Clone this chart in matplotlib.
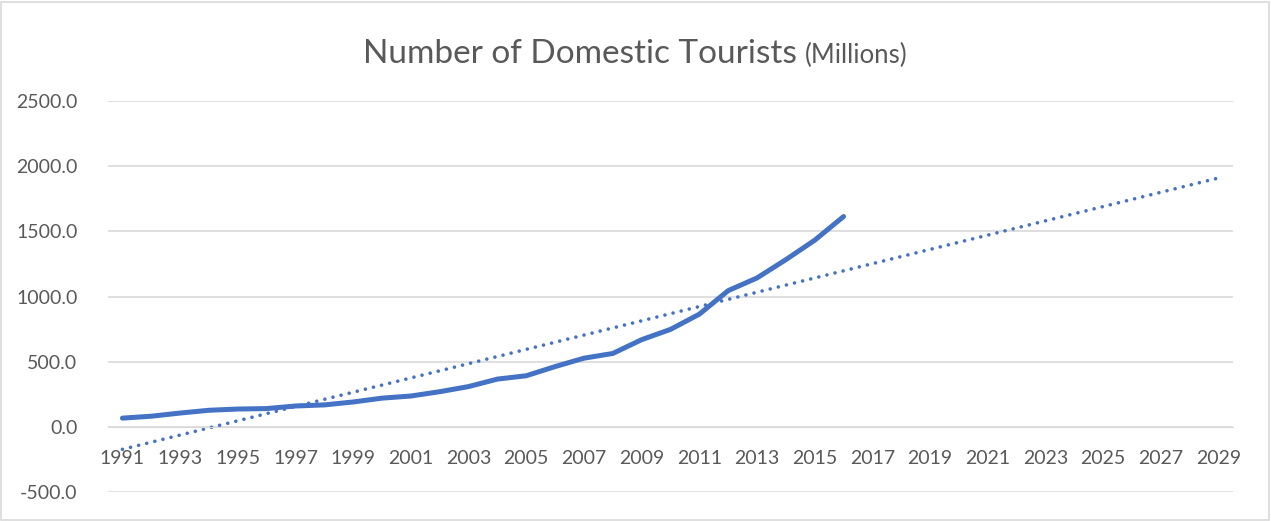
import numpy as np
import matplotlib.pyplot as plt

# Domestic tourist visits, millions
years = list(range(1991, 2017))
tourists = [66.7, 81.5, 105.8, 127.1, 136.6, 140.1, 159.9, 168.2, 190.7, 220.1,
            236.5, 269.6, 309.0, 366.3, 392.0, 462.3, 526.7, 563.0, 668.8, 747.7,
            864.5, 1045.0, 1142.5, 1282.8, 1432.0, 1613.6]
forecast_to = 2029

all_years = list(range(years[0], forecast_to + 1))
tick_years = all_years[::2]
yticks = [-500, 0, 500, 1000, 1500, 2000, 2500]

blue = "#4472C4"
grey_txt = "#595959"
grid_c = "#D9D9D9"

plt.rcParams["font.family"] = ["Lato", "DejaVu Sans"]

W, H = 1271, 521
fig = plt.figure(figsize=(W / 100, H / 100), dpi=100)
ax = fig.add_axes([108 / W, (H - 492) / H, (1233 - 108) / W, (492 - 101) / H])

x = np.arange(len(years))
ax.plot(x, tourists, color=blue, lw=3.6, solid_capstyle="round",
        solid_joinstyle="round", zorder=3)

# linear trend, projected forward
xf = np.arange(len(all_years))
coef = np.polyfit(x, tourists, 1)
ax.plot(xf, np.polyval(coef, xf), color=blue, lw=2.6,
        linestyle=(0, (0.01, 2.3)), dash_capstyle="round", zorder=2)

ax.set_xlim(-0.5, len(all_years) - 0.5)
ax.set_ylim(-500, 2500)
ax.set_yticks(yticks)
ax.set_yticklabels([f"{v:.1f}" for v in yticks])
ax.set_xticks([all_years.index(y) for y in tick_years])
ax.set_xticklabels([str(y) for y in tick_years])

ax.grid(axis="y", color=grid_c, lw=1.2)
ax.set_axisbelow(True)
for s in ax.spines.values():
    s.set_visible(False)
ax.spines["bottom"].set_visible(True)
ax.spines["bottom"].set_position(("data", 0))
ax.spines["bottom"].set_color(grid_c)
ax.tick_params(axis="both", length=0, labelsize=14, labelcolor=grey_txt)
ax.tick_params(axis="x", pad=16.5)
ax.tick_params(axis="y", pad=22)

# title in two sizes
t1 = fig.text(0.5, 1 - 63 / H, "Number of Domestic Tourists", fontsize=24,
              color=grey_txt, ha="left", va="baseline")
t2 = fig.text(0.5, 1 - 63 / H, "(Millions)", fontsize=18.5,
              color=grey_txt, ha="left", va="baseline")
fig.canvas.draw()
r = fig.canvas.get_renderer()
w1 = t1.get_window_extent(r).width
w2 = t2.get_window_extent(r).width
gap = 8
x0 = (W - (w1 + gap + w2)) / 2
t1.set_x(x0 / W)
t2.set_x((x0 + w1 + gap) / W)

# chart border
fig.patches.append(plt.Rectangle((1 / W, 1 / H), (W - 3) / W, (H - 3) / H,
                                 transform=fig.transFigure, fill=False,
                                 edgecolor=grid_c, lw=1.2))

fig.savefig("out.png", dpi=100)
